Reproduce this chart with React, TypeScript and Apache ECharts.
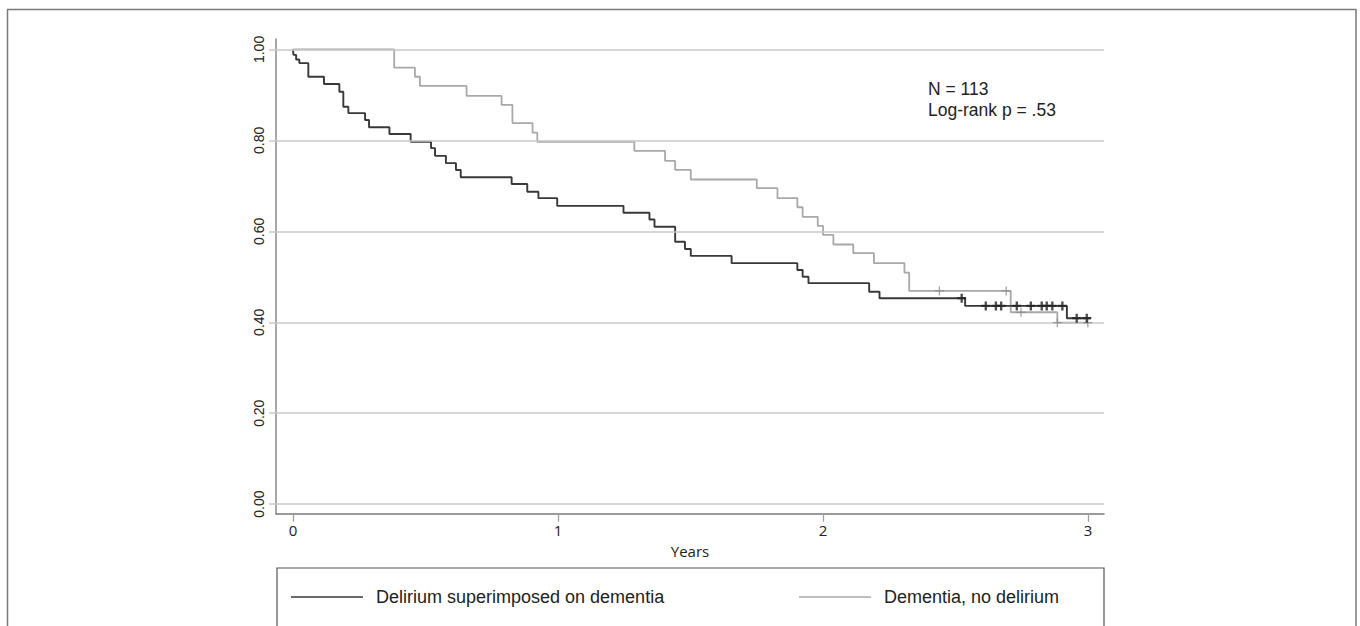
import React, { useEffect, useRef } from "react";
import * as echarts from "echarts";

const xTicks = [0, 1, 2, 3];
const yTicks = [0, 0.2, 0.4, 0.6, 0.8, 1.0];
const seriesNames = ["Delirium superimposed on dementia", "Dementia, no delirium"];
const annotationLines = ["N = 113", "Log-rank p = .53"];
const xAxisName = "Years";

// Kaplan-Meier step points: [years, survival after drop]
const deliriumSteps: [number, number][] = [
  [0, 1.0], [0.002, 0.988], [0.012, 0.978], [0.024, 0.970], [0.058, 0.940],
  [0.117, 0.924], [0.175, 0.907], [0.19, 0.874], [0.209, 0.860], [0.272, 0.845],
  [0.287, 0.829], [0.364, 0.814], [0.444, 0.797], [0.521, 0.783], [0.536, 0.766],
  [0.577, 0.750], [0.615, 0.735], [0.633, 0.719], [0.825, 0.704], [0.884, 0.687],
  [0.926, 0.673], [0.997, 0.656], [1.247, 0.641], [1.345, 0.626], [1.364, 0.610],
  [1.442, 0.577], [1.479, 0.561], [1.501, 0.546], [1.655, 0.530], [1.903, 0.515],
  [1.923, 0.500], [1.945, 0.486], [2.174, 0.467], [2.213, 0.453], [2.536, 0.436],
  [2.92, 0.409], [3.01, 0.409],
];

const dementiaSteps: [number, number][] = [
  [0, 1.0], [0.382, 0.960], [0.46, 0.940], [0.479, 0.920], [0.655, 0.898],
  [0.787, 0.878], [0.828, 0.838], [0.904, 0.817], [0.922, 0.797], [1.288, 0.777],
  [1.404, 0.755], [1.442, 0.735], [1.501, 0.714], [1.75, 0.695], [1.828, 0.673],
  [1.903, 0.653], [1.923, 0.632], [1.98, 0.612], [2.0, 0.592], [2.039, 0.571],
  [2.114, 0.552], [2.192, 0.530], [2.307, 0.509], [2.325, 0.469], [2.708, 0.422],
  [2.884, 0.399], [3.0, 0.399],
];

const deliriumCensored: [number, number][] = [
  [2.523, 0.453], [2.614, 0.436], [2.652, 0.436], [2.672, 0.436], [2.731, 0.436],
  [2.784, 0.436], [2.825, 0.436], [2.844, 0.436], [2.865, 0.436], [2.903, 0.436],
  [2.957, 0.409], [2.995, 0.409],
];

const dementiaCensored: [number, number][] = [
  [2.439, 0.469], [2.691, 0.469], [2.747, 0.422], [2.884, 0.399], [2.999, 0.399],
];

const DARK = "#383838";
const LIGHT = "#a8a8a8";
const GRID = "#c8c8c8";
const PLUS_THICK = "path://M3.7,0H6.3V3.7H10V6.3H6.3V10H3.7V6.3H0V3.7H3.7Z";
const PLUS_THIN = "path://M4.3,0H5.7V4.3H10V5.7H5.7V10H4.3V5.7H0V4.3H4.3Z";

export default function App() {
  const ref = useRef<HTMLDivElement>(null);
  useEffect(() => {
    if (!ref.current) return;
    const chart = echarts.init(ref.current, null, { renderer: "svg" });
    const legendText = {
      fontFamily: "Liberation Sans, Arial, sans-serif",
      fontSize: 18,
      color: "#222",
      padding: [0, 0, 0, 8],
    };
    chart.setOption({
      animation: false,
      backgroundColor: "#fff",
      grid: { left: 276, right: 256, top: 39, bottom: 112.3, containLabel: false },
      xAxis: {
        type: "value",
        min: -0.064,
        max: 3.06,
        splitLine: { show: false },
        axisLine: { onZero: false, lineStyle: { color: "#7a7a7a", width: 1.5 } },
        axisTick: { customValues: xTicks, length: 8, lineStyle: { color: "#a0a0a0", width: 1.3 } },
        axisLabel: {
          customValues: xTicks,
          fontFamily: "Open Sans, sans-serif",
          fontSize: 15,
          color: "#222",
          margin: 9,
        },
        name: xAxisName,
        nameLocation: "middle",
        nameGap: 30,
        nameTextStyle: { fontFamily: "Open Sans, sans-serif", fontSize: 15, color: "#222" },
      },
      yAxis: {
        type: "value",
        min: -0.021,
        max: 1.023,
        splitLine: { show: false },
        axisLine: { show: true, onZero: false, lineStyle: { color: "#8a8a8a", width: 1.5 } },
        axisTick: { show: true, customValues: yTicks, length: 7, lineStyle: { color: GRID, width: 1.5 } },
        axisLabel: {
          customValues: yTicks,
          rotate: 90,
          formatter: (v: number) => v.toFixed(2),
          fontFamily: "Liberation Sans, Arial, sans-serif",
          fontSize: 14,
          color: "#222",
          margin: 10,
        },
      },
      legend: [
        {
          data: [seriesNames[0]],
          left: 291,
          top: 588,
          padding: 0,
          icon: "rect",
          itemWidth: 72,
          itemHeight: 1.6,
          selectedMode: false,
          textStyle: legendText,
        },
        {
          data: [seriesNames[1]],
          left: 799,
          top: 588,
          padding: 0,
          icon: "rect",
          itemWidth: 72,
          itemHeight: 1.6,
          selectedMode: false,
          textStyle: legendText,
        },
      ],
      graphic: [
        {
          type: "rect",
          shape: { x: 7.5, y: 9.5, width: 1348.5, height: 700 },
          style: { fill: "none", stroke: "#7a7a7a", lineWidth: 1.5 },
          silent: true,
        },
        {
          type: "rect",
          shape: { x: 277, y: 568, width: 827, height: 100 },
          style: { fill: "none", stroke: "#555", lineWidth: 1.2 },
          silent: true,
        },
        ...annotationLines.map((t, i) => ({
          type: "text",
          x: 928,
          y: 89 + i * 21,
          style: {
            text: t,
            fontFamily: "Liberation Sans, Arial, sans-serif",
            fontSize: 17.5,
            fill: "#222",
            verticalAlign: "middle",
            align: "left",
          },
          silent: true,
        })),
      ],
      series: [
        {
          name: "grid",
          type: "line",
          data: [[0, 1]],
          symbol: "none",
          lineStyle: { opacity: 0 },
          z: 1,
          silent: true,
          markLine: {
            silent: true,
            symbol: "none",
            label: { show: false },
            lineStyle: { color: GRID, width: 1.5, type: "solid" },
            data: yTicks.map((v) => ({ yAxis: v })),
          },
        },
        {
          name: seriesNames[1],
          type: "line",
          step: "end",
          data: dementiaSteps,
          symbol: "none",
          color: LIGHT,
          lineStyle: { color: LIGHT, width: 1.8 },
          z: 3,
        },
        {
          name: seriesNames[0],
          type: "line",
          step: "end",
          data: deliriumSteps,
          symbol: "none",
          color: DARK,
          lineStyle: { color: DARK, width: 1.9 },
          z: 4,
        },
        {
          name: "censor-dementia",
          type: "scatter",
          data: dementiaCensored,
          symbol: PLUS_THIN,
          symbolSize: 9,
          itemStyle: { color: "#8a8a8a" },
          z: 5,
        },
        {
          name: "censor-delirium",
          type: "scatter",
          data: deliriumCensored,
          symbol: PLUS_THICK,
          symbolSize: 9,
          itemStyle: { color: "#222" },
          z: 6,
        },
      ],
    });
    return () => chart.dispose();
  }, []);
  return (
    <div
      ref={ref}
      style={{ position: "fixed", left: 0, top: 0, width: 1360, height: 626, background: "#fff" }}
    />
  );
}
